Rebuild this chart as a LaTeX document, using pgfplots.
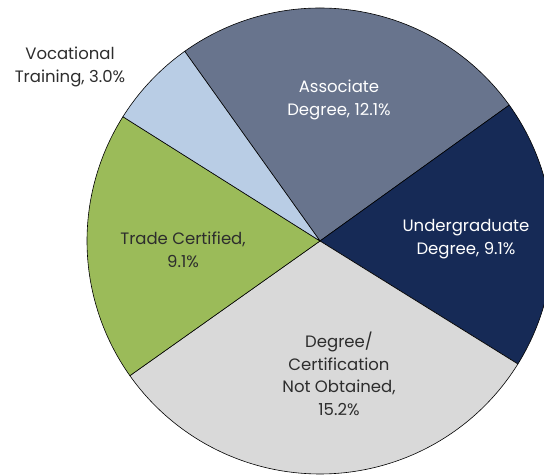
\documentclass[border=0pt]{standalone}
\usepackage{pgfplots}
\pgfplotsset{compat=1.18}
\usepackage{pgfplotstable}
\usepackage{fontspec}
\setmainfont{Poppins}
\definecolor{cAssoc}{RGB}{104,116,141}
\definecolor{cUnder}{RGB}{22,42,86}
\definecolor{cNot}{RGB}{217,217,217}
\definecolor{cTrade}{RGB}{155,187,89}
\definecolor{cVoc}{RGB}{185,205,229}
\definecolor{cTxt}{RGB}{45,45,45}

\pgfplotstableread{
label value
Associate 12.1
Undergraduate 9.1
NotObtained 15.2
Trade 9.1
Vocational 3.0
}\piedata

\pgfplotstablegetelem{0}{value}\of\piedata \let\vA\pgfplotsretval
\pgfplotstablegetelem{1}{value}\of\piedata \let\vB\pgfplotsretval
\pgfplotstablegetelem{2}{value}\of\piedata \let\vC\pgfplotsretval
\pgfplotstablegetelem{3}{value}\of\piedata \let\vD\pgfplotsretval
\pgfplotstablegetelem{4}{value}\of\piedata \let\vE\pgfplotsretval
\pgfmathsetmacro\tot{\vA+\vB+\vC+\vD+\vE}
\pgfmathsetmacro\aA{125.5}
\pgfmathsetmacro\aB{\aA-360*\vA/\tot}
\pgfmathsetmacro\aC{\aB-360*\vB/\tot}
\pgfmathsetmacro\aD{\aC-360*\vC/\tot}
\pgfmathsetmacro\aE{\aD-360*\vD/\tot}
\pgfmathsetmacro\aF{\aE-360*\vE/\tot}
\def\cx{320}
\def\cy{234}
\def\R{233}

\begin{document}
\begin{tikzpicture}
\begin{axis}[
  scale only axis, width=544bp, height=475bp,
  xmin=0, xmax=544, ymin=0, ymax=475,
  hide axis, clip=true,
  every axis plot/.append style={draw=black, line width=0.6bp, line join=round},
  nodes={font=\fontsize{16.5bp}{22.5bp}\selectfont, align=center},
]
\addplot[fill=cAssoc, domain=\aB:\aA, samples=120, variable=\t] ({\cx+\R*cos(\t)},{\cy+\R*sin(\t)}) -- (axis cs:\cx,\cy) -- cycle;
\addplot[fill=cUnder, domain=\aC:\aB, samples=120, variable=\t] ({\cx+\R*cos(\t)},{\cy+\R*sin(\t)}) -- (axis cs:\cx,\cy) -- cycle;
\addplot[fill=cNot, domain=\aD:\aC, samples=120, variable=\t] ({\cx+\R*cos(\t)},{\cy+\R*sin(\t)}) -- (axis cs:\cx,\cy) -- cycle;
\addplot[fill=cTrade, domain=\aE:\aD, samples=120, variable=\t] ({\cx+\R*cos(\t)},{\cy+\R*sin(\t)}) -- (axis cs:\cx,\cy) -- cycle;
\addplot[fill=cVoc, domain=\aF:\aE, samples=60, variable=\t] ({\cx+\R*cos(\t)},{\cy+\R*sin(\t)}) -- (axis cs:\cx,\cy) -- cycle;

\node[text=white] at (axis cs:339,375) {Associate\\Degree, 12.1\%};
\node[text=white] at (axis cs:466,236) {Undergraduate\\Degree, 9.1\%};
\node[text=cTxt] at (axis cs:339,101) {Degree/\\Certification\\Not Obtained,\\15.2\%};
\node[text=cTxt] at (axis cs:183,225) {Trade Certified,\\9.1\%};
\node[text=cTxt] at (axis cs:70,408) {Vocational\\Training, 3.0\%};

\coordinate (ll) at (rel axis cs:0,0);
\coordinate (ur) at (rel axis cs:1,1);
\end{axis}
\pgfresetboundingbox
\path (ll) rectangle (ur);
\end{tikzpicture}
\end{document}
